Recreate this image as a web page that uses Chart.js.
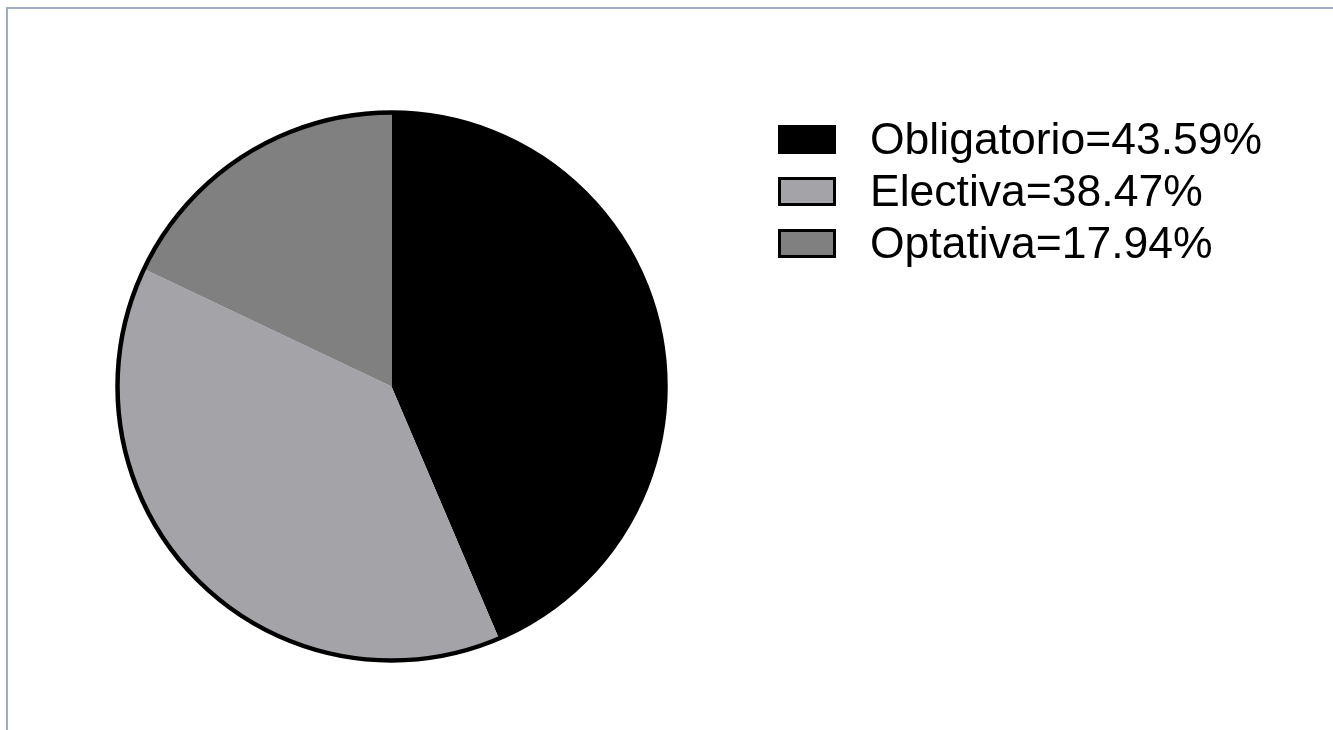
<!DOCTYPE html>
<html>
<head>
<meta charset="utf-8">
<script src="https://cdn.jsdelivr.net/npm/chart.js@4"></script>
<style>
  html, body { margin:0; padding:0; background:#fff; }
  body { width:1333px; height:730px; position:relative; overflow:hidden; font-family:"Liberation Sans", Arial, sans-serif; }
  .frame { position:absolute; left:6px; top:7px; right:-10px; bottom:-10px; border-top:2px solid #a0adc3; border-left:2px solid #a0adc3; }
  #wrap { position:absolute; left:0; top:0; width:1333px; height:730px; }
  #legend { position:absolute; left:778px; top:113px; }
  .row { display:flex; align-items:center; height:52px; }
  .box { width:58px; height:29px; box-sizing:border-box; border:3px solid #000; margin-right:34px; }
  .lbl { font-size:44.5px; line-height:52px; color:#000; white-space:nowrap; }
</style>
</head>
<body>
<div class="frame"></div>
<div id="wrap"><canvas id="pie"></canvas></div>
<div id="legend"></div>
<script>
'use strict';
// ── data ────────────────────────────────────────────
const categories = ['Obligatorio', 'Electiva', 'Optativa'];
const shares     = [43.59, 38.47, 17.94];
const colors     = ['#000000', '#a4a3a8', '#808080'];

// outer ring only, no lines between slices
const outline = {
  id: 'outline',
  afterDatasetsDraw(chart) {
    const arc = chart.getDatasetMeta(0).data[0];
    if (!arc) return;
    const ctx = chart.ctx;
    ctx.save();
    ctx.beginPath();
    ctx.arc(arc.x, arc.y, arc.outerRadius, 0, Math.PI * 2);
    ctx.lineWidth = 4.5;
    ctx.strokeStyle = '#000';
    ctx.stroke();
    ctx.restore();
  }
};

const chart = new Chart(document.getElementById('pie'), {
  type: 'pie',
  data: {
    labels: categories,
    datasets: [{ data: shares, backgroundColor: colors, borderWidth: 0, hoverOffset: 0 }],
  },
  options: {
    responsive: true,
    maintainAspectRatio: false,
    animation: false,
    layout: { padding: { left: 117.5, top: 112.5, right: 667.5, bottom: 69.5 } },
    plugins: { legend: { display: false }, tooltip: { enabled: false } },
  },
  plugins: [outline],
});

// ── legend ──────────────────────────────────────────
document.getElementById('legend').innerHTML = categories.map((c, i) => `
  <div class="row">
    <div class="box" style="background:${colors[i]}"></div>
    <span class="lbl">${c}=${shares[i].toFixed(2)}%</span>
  </div>`).join('');
</script>
</body>
</html>
